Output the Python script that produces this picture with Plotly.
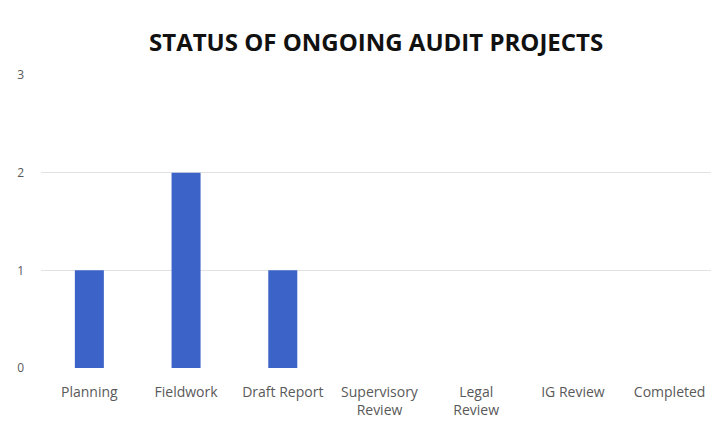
import plotly.graph_objects as go

categories = ["Planning", "Fieldwork", "Draft Report", "Supervisory<br>Review",
              "Legal<br>Review", "IG Review", "Completed"]
counts = [1, 2, 1, 0, 0, 0, 0]
y_ticks = [0, 1, 2, 3]

fig = go.Figure()
fig.add_trace(go.Bar(
    x=categories, y=counts, width=0.3,
    marker=dict(color="#3b63c8", line=dict(width=0)),
))
fig.update_layout(
    width=719, height=432,
    margin=dict(l=33, r=9, t=66, b=72),
    paper_bgcolor="white", plot_bgcolor="white",
    showlegend=False,
    title=dict(text="<b>STATUS OF ONGOING AUDIT PROJECTS</b>", x=0.512, xanchor="center",
               y=0.921, yanchor="middle",
               font=dict(family="Open Sans", size=24, color="#111111")),
    font=dict(family="Open Sans", size=12, color="#595959"),
)
fig.update_xaxes(showgrid=False, showline=False, ticks="", tickangle=0,
                 ticklabelstandoff=14,
                 tickfont=dict(size=14, color="#595959"))
fig.update_yaxes(range=[0, 3.01], tickvals=y_ticks, showgrid=True, gridcolor="#e2e2e2",
                 gridwidth=1, zeroline=False, showline=False, ticks="",
                 ticklabelstandoff=16, tickfont=dict(size=12, color="#595959"))
fig.write_html("out.html")
